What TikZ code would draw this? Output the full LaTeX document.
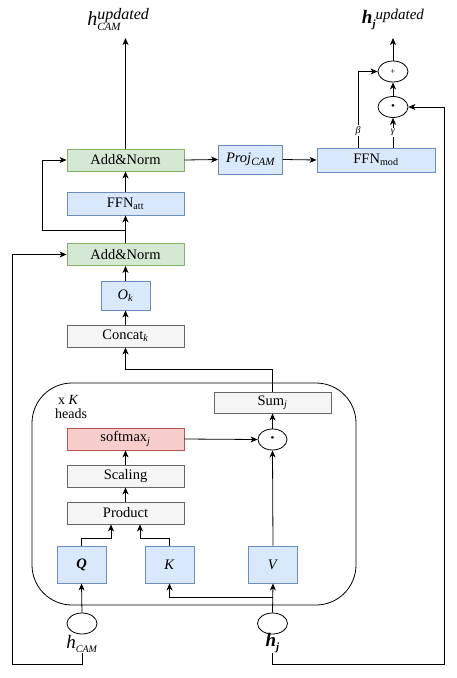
\documentclass[tikz,border=0pt]{standalone}
\usepackage{fontspec}
\setmainfont{Liberation Serif}
\usetikzlibrary{arrows.meta,shapes.geometric}
\definecolor{bfill}{HTML}{DAE8FC}\definecolor{bdraw}{HTML}{6C8EBF}
\definecolor{gfill}{HTML}{D5E8D4}\definecolor{gdraw}{HTML}{82B366}
\definecolor{kfill}{HTML}{F5F5F5}\definecolor{kdraw}{HTML}{666666}
\definecolor{rfill}{HTML}{F8CECC}\definecolor{rdraw}{HTML}{B85450}
\newcommand{\fs}[1]{\fontsize{#1}{#1}\selectfont}
\begin{document}
\begin{tikzpicture}[x=1pt,y=-1pt,
  box/.style={draw, line width=0.9pt, inner sep=0pt, minimum width=117pt, minimum height=22pt, font=\fs{14.5}},
  bluebox/.style={box, fill=bfill, draw=bdraw},
  greenbox/.style={box, fill=gfill, draw=gdraw},
  graybox/.style={box, fill=kfill, draw=kdraw},
  redbox/.style={box, fill=rfill, draw=rdraw},
  oval/.style={draw, ellipse, line width=0.8pt, inner sep=0pt, minimum width=30pt, minimum height=21pt},
  arr/.style={line width=0.8pt, -{Stealth[length=7pt,width=6pt,inset=2pt]}},
  lbl/.style={inner sep=0pt}]
\useasboundingbox (0,0) rectangle (457,678);
% container
\draw[line width=0.8pt, rounded corners=40pt] (32,383) rectangle (356,605);
\node[lbl, anchor=west, font=\fs{14}] (xk) at (58,400) {x \textit{K}};
\node[lbl, anchor=west, font=\fs{14}] (heads) at (55,414) {heads};
% nodes
\node[greenbox] (anA) at (125.5,160) {Add\&Norm};
\node[bluebox, minimum height=23pt] (ffn) at (125.5,203.5) {FFN\textsubscript{att}};
\node[greenbox] (anB) at (125.5,254.5) {Add\&Norm};
\node[bluebox, minimum width=49pt, minimum height=29pt] (ok) at (125.5,295.5) {\textit{O}\textsubscript{\textit{k}}};
\node[graybox] (concat) at (125.5,336) {Concat\textsubscript{\textit{k}}};
\node[graybox, minimum height=21pt] (sum) at (272.5,402.5) {Sum\textsubscript{\textit{j}}};
\node[redbox] (softmax) at (125.5,439) {softmax\textsubscript{\textit{j}}};
\node[graybox] (scaling) at (125.5,476) {Scaling};
\node[graybox] (product) at (125.5,513) {Product};
\node[bluebox, minimum width=49pt, minimum height=37pt] (Q) at (81.5,564.5) {\textbf{\textit{Q}}};
\node[bluebox, minimum width=49pt, minimum height=37pt] (K) at (169.5,564.5) {\textit{K}};
\node[bluebox, minimum width=49pt, minimum height=37pt] (V) at (273,564.5) {\textit{V}};
\node[oval, minimum width=29pt] (dot) at (272.5,439.5) {\fs{11}\textbullet};
\node[oval] (hcam) at (82,623.5) {};
\node[oval] (hj) at (272.5,623.5) {};
\node[lbl, font=\fs{19}] (hcamlbl) at (82,644) {\textit{h}\raisebox{-4pt}{\fs{10}\textit{CAM}}};
\node[lbl, font=\fs{19}] (hjlbl) at (272.5,643) {\textbf{\textit{h}}\raisebox{-4pt}{\fs{11}\textbf{\textit{j}}}};
\node[bluebox, minimum width=64pt, minimum height=29pt] (proj) at (250.5,159.5) {\textit{Proj}\raisebox{-2.5pt}{\fs{11}\textit{CAM}}};
\node[bluebox, minimum width=118pt, minimum height=24pt] (ffnmod) at (376,160) {FFN\textsubscript{mod}};
\node[oval] (dot2) at (393,107) {\fs{11}\textbullet};
\node[oval] (plus) at (393,71.5) {\fs{9}+};
\node[lbl, font=\fs{20}] (hcamup) at (130,19) {\textit{h}\rlap{\raisebox{6pt}{\fs{16}\textit{updated}}}\raisebox{-5pt}{\fs{11}\textit{CAM}}\phantom{\fs{16}\textit{updated}}};
\node[lbl, font=\fs{19}] (hjup) at (393,19) {\textbf{\textit{h}}\raisebox{-4pt}{\fs{11}\textbf{\textit{j}}}\raisebox{4pt}{\fs{15}\textit{updated}}};
\coordinate (topA) at (125.5,38);
\coordinate (topB) at (393,38);
% connectors, left column
\draw[arr] (anA.north) -- (topA);
\draw[arr] (ffn.north) -- (anA.south);
\draw[arr] (anB.north) -- (ffn.south);
\coordinate (b1) at (125.5,230);
\draw[arr] (b1) -- (42,230) |- (anA.west);
\draw[arr] (hcamlbl.south) -- (82,664) -- (12,664) |- (anB.west);
\draw[arr] (ok.north) -- (anB.south);
\draw[arr] (concat.north) -- (ok.south);
\draw[arr] (sum.north) -- (272.5,369) -| (concat.south);
\draw[arr] (dot.north) -- (sum.south);
\draw[arr] (softmax.east) -- (dot.west);
\draw[arr] (scaling.north) -- (softmax.south);
\draw[arr] (product.north) -- (scaling.south);
\draw[arr] (Q.north) -- ++(0,-7) -| ([xshift=-14.5pt]product.south);
\draw[arr] (K.north) -- ++(0,-7) -| ([xshift=14.5pt]product.south);
\draw[arr] (V.north) -- (dot.south);
\draw[arr] (hcam.north) -- (Q.south);
\draw[arr] (hj.north) -- (V.south);
\coordinate (br) at (272.5,597);
\draw[arr] (br) -| (K.south);
\draw[arr] (hjlbl.south) -- (272.5,664) -- (444,664) |- (dot2.east);
% right part
\draw[arr] (anA.east) -- (proj.west);
\draw[arr] (proj.east) -- (ffnmod.west);
\draw[arr] (ffnmod.north -| 358,0) -- (358,71.5) node[pos=0.22, fill=white, inner sep=1pt, font=\fs{10}] {\textit{β}} -- (plus.west);
\draw[arr] (ffnmod.north -| dot2.south) -- (dot2.south) node[midway, fill=white, inner sep=1pt, font=\fs{10}] {\textit{γ}};
\draw[arr] (dot2.north) -- (plus.south);
\draw[arr] (plus.north) -- (topB);
\end{tikzpicture}
\end{document}
